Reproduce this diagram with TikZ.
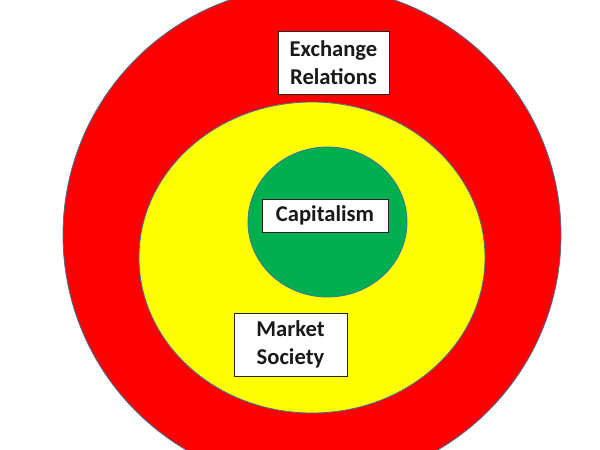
\documentclass[tikz,border=0pt]{standalone}
\usepackage{fontspec}
\setmainfont{Carlito}
\definecolor{ringred}{HTML}{FF0000}
\definecolor{ringyellow}{HTML}{FFFF00}
\definecolor{ringgreen}{HTML}{00B050}
\definecolor{ringedge}{HTML}{41719C}
\tikzset{
  ring/.style={draw=ringedge, line width=0.8pt},
  labelbox/.style={draw=black!85, line width=0.9pt, fill=white, inner sep=0pt,
    align=center, font=\fontsize{22.6}{27.6}\selectfont\bfseries, text=black!90}
}
\begin{document}
\begin{tikzpicture}[x=1pt,y=-1pt]
\useasboundingbox (0,0) rectangle (600,450);
\clip (0,0) rectangle (600,450);
\fill[white] (0,0) rectangle (600,450);
\draw[ring, fill=ringred] (312,235) ellipse [x radius=249, y radius=249];
\draw[ring, fill=ringyellow] (312,257.5) ellipse [x radius=173, y radius=155.5];
\draw[ring, fill=ringgreen] (327.5,222) ellipse [x radius=79.5, y radius=75];
\node[labelbox, minimum width=111pt, minimum height=63pt] (exch) at (333.5,62.5) {Exchange\\Relations};
\node[labelbox, minimum width=126pt, minimum height=33pt] (cap) at (325,215.5) {Capitalism};
\node[labelbox, minimum width=113pt, minimum height=63pt] (mkt) at (290.5,344.5) {Market\\Society};
\end{tikzpicture}
\end{document}
